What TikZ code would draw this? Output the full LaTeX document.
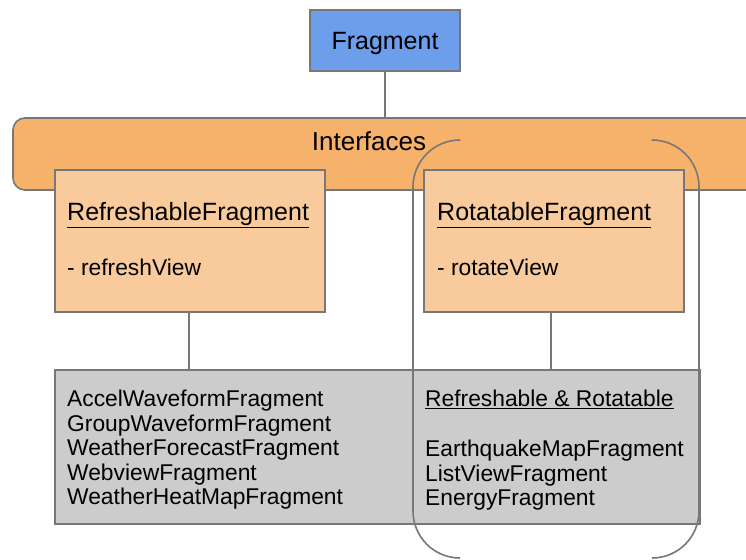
\documentclass[tikz,border=0pt]{standalone}
\usepackage{fontspec}
\setmainfont{Liberation Sans}
\definecolor{fragblue}{HTML}{6D9EEB}
\definecolor{intforange}{HTML}{F6B26B}
\definecolor{ifaceorange}{HTML}{F9CB9C}
\definecolor{lgray}{HTML}{CCCCCC}
\definecolor{edge}{HTML}{777777}
\begin{document}
\begin{tikzpicture}[x=1pt,y=-1pt,
  box/.style={draw=edge,line width=1.6pt,inner sep=0pt,outer sep=0pt},
  txt/.style={font=\fontsize{22.8}{24.5}\selectfont,inner sep=0pt,anchor=west,align=left},
  ttl/.style={font=\fontsize{25}{28}\selectfont,inner sep=0pt,anchor=west},
  link/.style={draw=edge,line width=1.6pt}]
\useasboundingbox (0,0) rectangle (746,559);
\fill[white] (0,0) rectangle (746,559);
% Interfaces bar
\node[box,fill=intforange,rounded corners=12pt,minimum width=760pt,minimum height=72pt] (intf) at (393,154) {};
\node[ttl,anchor=center,font=\fontsize{26}{28}\selectfont] (intflabel) at (369,141) {Interfaces};
% Fragment
\node[box,fill=fragblue,minimum width=150pt,minimum height=61pt] (frag) at (385,40.5) {};
\node[ttl,anchor=center] (fragT) at (385,43) {Fragment};
\draw[link] (frag.south) -- (frag.south |- intf.north);
% interface boxes
\node[box,fill=ifaceorange,minimum width=270pt,minimum height=142pt] (refr) at (190,241) {};
\node[box,fill=ifaceorange,minimum width=260pt,minimum height=142pt] (rot) at (554,241) {};
\node[ttl] (refrT) at (67,215) {\underline{RefreshableFragment}};
\node[txt] (refrM) at (67,267) {- refreshView};
\node[ttl] (rotT) at (437,215) {\underline{RotatableFragment}};
\node[txt] (rotM) at (437,267) {- rotateView};
% implementations box
\node[box,fill=lgray,minimum width=645pt,minimum height=154pt] (impl) at (377.5,447) {};
\coordinate (refrlink) at (189,312);
\coordinate (rotlink) at (551,312);
\draw[link] (refrlink) -- (refrlink |- impl.north);
\draw[link] (rotlink) -- (rotlink |- impl.north);
\node[txt,anchor=north west] (left) at (67,390) {AccelWaveformFragment\\GroupWaveformFragment\\WeatherForecastFragment\\WebviewFragment\\WeatherHeatMapFragment};
\node[txt] (bothT) at (425,399) {\underline{Refreshable \& Rotatable}};
\node[txt,anchor=north west] (both) at (425,440) {EarthquakeMapFragment\\ListViewFragment\\EnergyFragment};
% grouping outline
\coordinate (gtl) at (460,140);
\coordinate (gtr) at (652,140);
\draw[link] (gtl) arc[start angle=90,end angle=180,radius=47pt] -- ++(0,324) arc[start angle=180,end angle=270,radius=47pt];
\draw[link] (gtr) arc[start angle=90,end angle=0,radius=47pt] -- ++(0,324) arc[start angle=0,end angle=-90,radius=47pt];
\end{tikzpicture}
\end{document}
